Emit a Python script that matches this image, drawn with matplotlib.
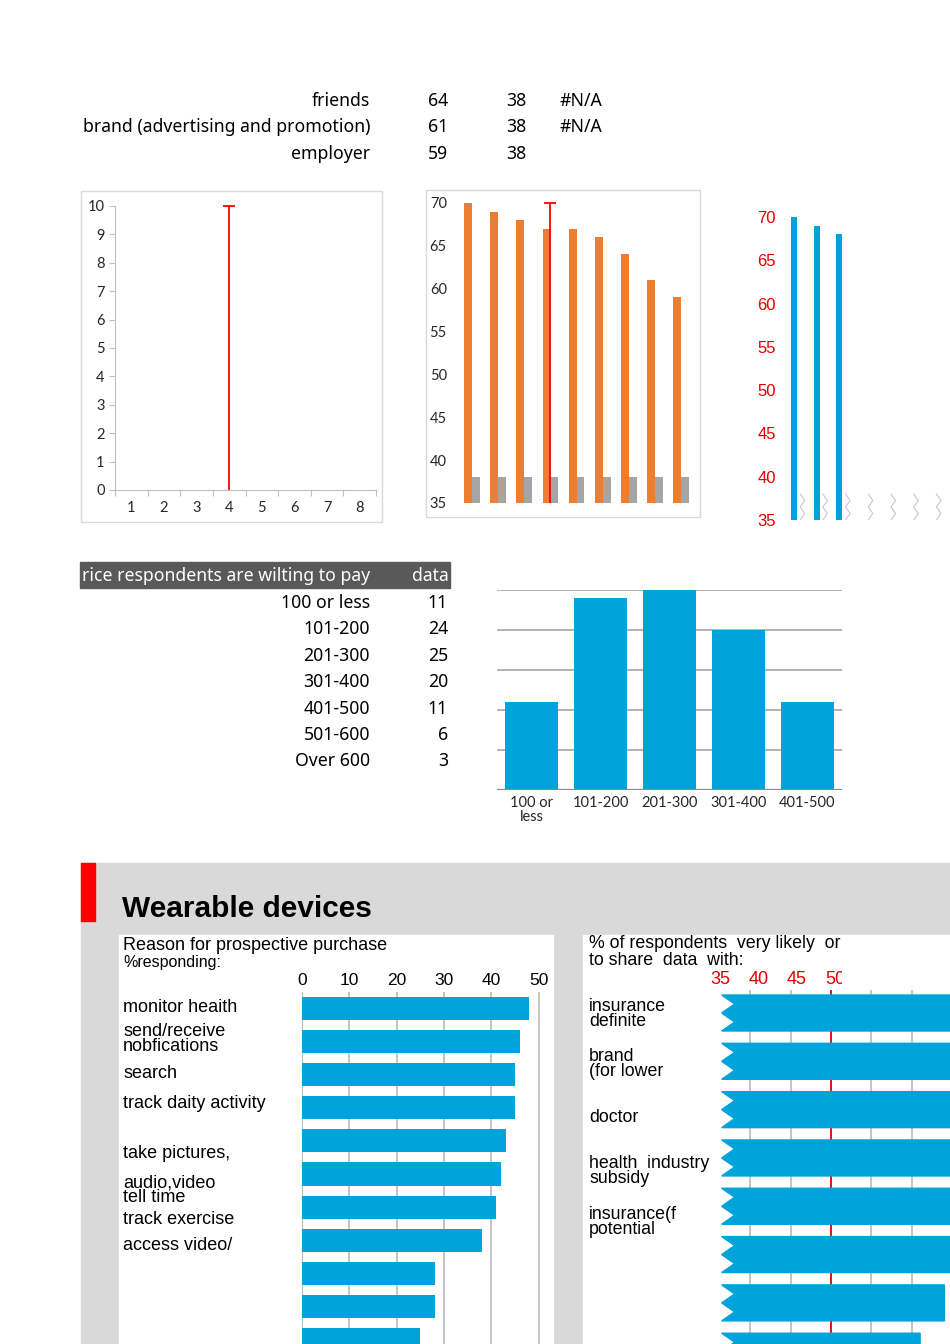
import numpy as np
import matplotlib.pyplot as plt
from matplotlib.patches import Rectangle, Polygon

# ---- data ----
top_rows = ["friends", "brand (advertising and promotion)", "employer"]
top_col1 = [64, 61, 59]
top_col2 = [38, 38, 38]
top_col3 = ["#N/A", "#N/A", ""]

c1_cats = [1, 2, 3, 4, 5, 6, 7, 8]
c1_err_x = [4]
c1_err_top = [10]

c2_orange = [70, 69, 68, 67, 67, 66, 64, 61, 59]
c2_grey = [38, 38, 38, 38, 38, 38, 38, 38, 38]
c2_err_x = [3]
c2_err_top = [70]

c3_vals = [70, 69, 68]
c3_ncat = 7

price_cats = ["100 or less", "101-200", "201-300", "301-400", "401-500", "501-600", "Over 600"]
price_vals = [11, 24, 25, 20, 11, 6, 3]
price_ticklabels = ["100 or\nless", "101-200", "201-300", "301-400", "401-500"]

reason_vals = [48, 46, 45, 45, 43, 42, 41, 38, 28, 28, 25]
reason_lines = [("monitor heaith", 1008), ("send/receive\nnobfications", 1039),
                ("search", 1073), ("track daity activity", 1104), ("take pictures,", 1154),
                ("audio,video\ntell time", 1190), ("track exercise", 1220),
                ("access video/", 1245)]

share_vals = [70, 69, 68, 67, 67, 66, 64, 61, 59]
share_lines = [("insurance\ndefinite", 1014), ("brand\n(for lower", 1064),
               ("doctor", 1118), ("health  industry\nsubsidy", 1171),
               ("insurance(f\npotential", 1222)]

BLUE = "#00A3DA"
W, H = 950, 1344
fig = plt.figure(figsize=(W/100, H/100), dpi=100)

bg = fig.add_axes([0, 0, 1, 1])
bg.set_xlim(0, W); bg.set_ylim(H, 0); bg.axis("off")

def px_axes(x0, y0, x1, y1):
    return fig.add_axes([x0/W, 1-y1/H, (x1-x0)/W, (y1-y0)/H])

SEG = "Noto Sans"
ARI = "Liberation Sans"
LAT = "Lato"

# top little table
for i, (lab, a, b, c) in enumerate(zip(top_rows, top_col1, top_col2, top_col3)):
    y = 101 + 26.5*i
    bg.text(370, y, lab, ha="right", va="center", fontsize=12.7, family=SEG)
    bg.text(428, y, str(a), ha="left", va="center", fontsize=12.7, family=SEG)
    bg.text(506, y, str(b), ha="left", va="center", fontsize=12.7, family=SEG)
    bg.text(560, y, c, ha="left", va="center", fontsize=12.7, family=SEG)

# chart frames
bg.add_patch(Rectangle((81, 191), 301, 331, fill=False, ec="#D9D9D9", lw=1))
bg.add_patch(Rectangle((426, 190), 274, 327, fill=False, ec="#D9D9D9", lw=1))

# chart 1
ax1 = px_axes(115, 206, 376, 490)
ax1.set_xlim(0.5, 8.5); ax1.set_ylim(0, 10)
for s in ["top", "right"]:
    ax1.spines[s].set_visible(False)
for s in ["left", "bottom"]:
    ax1.spines[s].set_color("#BFBFBF")
ax1.set_yticks(range(0, 11))
ax1.set_xticks(np.arange(0.5, 9, 1))
ax1.set_xticklabels([])
ax1.set_xticks(c1_cats, minor=True)
ax1.set_xticklabels([str(c) for c in c1_cats], minor=True)
ax1.tick_params(which="major", color="#BFBFBF", length=4, labelsize=10.5, labelcolor="#262626")
ax1.tick_params(axis="x", which="minor", length=0, pad=8, labelsize=10.5, labelcolor="#262626")
for t in ax1.get_yticklabels() + ax1.get_xticklabels(minor=True):
    t.set_family(LAT)
ax1.vlines(c1_err_x, 0, c1_err_top, color="red", lw=1.3)
ax1.plot(c1_err_x, c1_err_top, marker="_", ms=8, mew=1.3, color="red", ls="none", clip_on=False)

# chart 2
ax2 = px_axes(451, 203, 693, 503)
ax2.set_xlim(-0.8, 8.45); ax2.set_ylim(35, 70)
x2 = np.arange(len(c2_orange))
ax2.bar(x2-0.15, c2_orange, 0.3, color="#ED7D31")
ax2.bar(x2+0.15, c2_grey, 0.3, color="#A5A5A5")
ax2.vlines(c2_err_x, 35, c2_err_top, color="red", lw=1.3)
ax2.plot(c2_err_x, c2_err_top, marker="_", ms=8, mew=1.3, color="red", ls="none", clip_on=False)
for s in ax2.spines.values():
    s.set_visible(False)
ax2.set_yticks(range(35, 71, 5)); ax2.set_xticks([])
ax2.tick_params(length=0, pad=3, labelsize=10.5, labelcolor="#262626")
for t in ax2.get_yticklabels():
    t.set_family(LAT)
ax2.patch.set_alpha(0)

# chart 3
ax3 = px_axes(780, 217, 950, 520)
ax3.set_xlim(-0.617, 6.87); ax3.set_ylim(35, 70)
ax3.bar(range(len(c3_vals)), c3_vals, 0.26, color=BLUE)
for i in range(c3_ncat):
    xz = i + 0.27 + np.array([0, 0.2, 0, 0.2, 0])
    ax3.plot(xz, [38, 37.25, 36.5, 35.75, 35], color="#C8C8C8", lw=0.8)
for s in ax3.spines.values():
    s.set_visible(False)
ax3.set_yticks(range(35, 71, 5)); ax3.set_xticks([])
ax3.tick_params(length=0, pad=3, labelsize=12, labelcolor="#E00000")
for t in ax3.get_yticklabels():
    t.set_family(ARI)

# price table
bg.add_patch(Rectangle((80, 562), 370, 26, color="#595959"))
bg.text(370, 576, "rice respondents are wilting to pay", ha="right", va="center",
        color="white", fontsize=12.7, family=SEG)
bg.text(449, 576, "data", ha="right", va="center", color="white", fontsize=12.7, family=SEG)
for i, (c, v) in enumerate(zip(price_cats, price_vals)):
    y = 603 + 26.4*i
    bg.text(370, y, c, ha="right", va="center", fontsize=12.7, family=SEG)
    bg.text(448, y, str(v), ha="right", va="center", fontsize=12.7, family=SEG)

# price bar chart
ax5 = px_axes(497, 590, 842, 790)
ax5.set_xlim(-0.5, 4.5); ax5.set_ylim(0, 25)
ax5.bar(range(5), price_vals[:5], 0.77, color=BLUE, zorder=3)
ax5.set_yticks(range(0, 26, 5)); ax5.set_yticklabels([])
ax5.grid(axis="y", color="#A6A6A6", lw=1.2)
ax5.axhline(0, color="#8C8C8C", lw=1.6, zorder=4)
for s in ax5.spines.values():
    s.set_visible(False)
ax5.set_xticks(range(5)); ax5.set_xticklabels(price_ticklabels, linespacing=1.0)
ax5.tick_params(length=0, pad=4, labelsize=10.5, labelcolor="#262626")
for t in ax5.get_xticklabels():
    t.set_family(LAT)

# wearable section
bg.add_patch(Rectangle((81, 863), 869, 481, color="#D9D9D9"))
bg.add_patch(Rectangle((81, 863), 14, 58, color="#FF0000"))
bg.text(122, 909, "Wearable devices", fontsize=21.5, weight="bold", family=ARI, va="center")
bg.add_patch(Rectangle((119, 935), 434, 409, color="white"))
bg.add_patch(Rectangle((583, 935), 367, 409, color="white"))

bg.text(123, 945, "Reason for prospective purchase", fontsize=13, family=ARI, va="center")
bg.text(123, 963, "%responding:", fontsize=11.5, family=ARI, va="center")

ax6 = px_axes(302, 992, 545, 1400)
ax6.set_xlim(0, 51.3); ax6.set_ylim(11.83, -0.5)
ax6.barh(range(len(reason_vals)), reason_vals, 0.7, color=BLUE, zorder=3)
ax6.set_xticks(range(0, 51, 10)); ax6.set_yticks([])
ax6.xaxis.tick_top()
ax6.grid(axis="x", color="#BFBFBF", lw=1.3)
ax6.tick_params(length=0, pad=3, labelsize=12.5)
for t in ax6.get_xticklabels():
    t.set_family(ARI)
for s in ["top", "right", "bottom"]:
    ax6.spines[s].set_visible(False)
ax6.spines["left"].set_color("#BFBFBF")

axl = px_axes(119, 995, 300, 1251)
axl.set_xlim(119, 300); axl.set_ylim(1251, 995); axl.axis("off")
for txt, y in reason_lines:
    t = axl.text(123, y, txt, fontsize=13, family=ARI, va="center", linespacing=0.78,
                 clip_on=True)
    t.set_clip_path(axl.patch)

bg.text(589, 952, "% of respondents  very likely  or\nto share  data  with:", fontsize=12.8,
        family=ARI, va="center", linespacing=0.95)
for txt, y in share_lines:
    bg.text(589, y, txt, fontsize=12.8, family=ARI, va="center", linespacing=0.8)

ax7 = px_axes(709.5, 990, 993, 1400)
ax7.set_xlim(35, 70); ax7.set_ylim(8.01, -0.476)
ax7.set_xticks(range(40, 70, 5)); ax7.set_yticks([])
ax7.set_xticklabels([])
ax7.tick_params(length=0)
ax7.grid(axis="x", color="#BFBFBF", lw=1.3)
for tk, gl in zip(ax7.get_xticks(), ax7.get_xgridlines()):
    if tk == 50:
        gl.set_color("#E00000")
for s in ax7.spines.values():
    s.set_visible(False)
L, d, h = 36.5, 1.6, 0.745
for i, v in enumerate(share_vals):
    y0, y1 = i - h/2, i + h/2
    pts = [(L, y0), (v, y0), (v, y1), (L, y1), (L+d, i+h/4), (L, i), (L+d, i-h/4)]
    ax7.add_patch(Polygon(pts, closed=True, color=BLUE, zorder=3))

s8 = (835 - 720) / 15
ax8 = px_axes(700, 968, 842, 990)
ax8.set_xlim(35 - 20/s8, 50 + 7/s8); ax8.set_ylim(0, 1); ax8.axis("off")
for v in [35, 40, 45, 50]:
    t = ax8.text(v, 0.5, str(v), ha="center", va="center", color="#E00000",
                 fontsize=13, family=ARI, clip_on=True)
    t.set_clip_path(ax8.patch)

fig.savefig("out.png", dpi=100)
